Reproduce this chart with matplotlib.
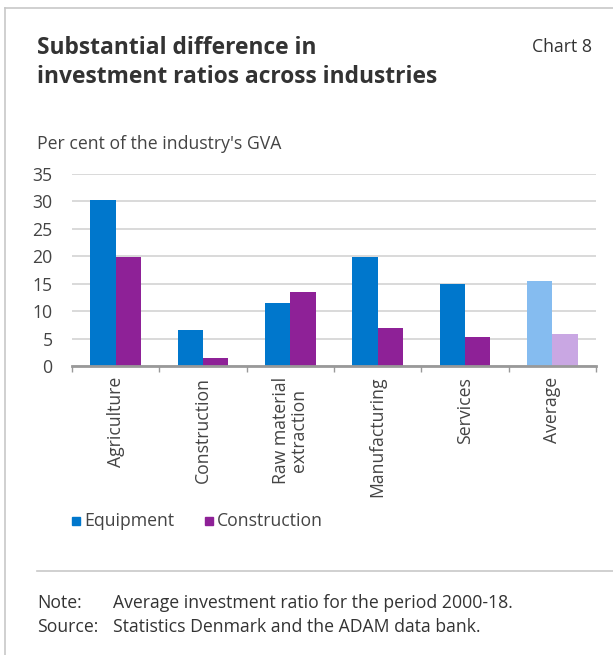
import numpy as np
import matplotlib
matplotlib.use("Agg")
import matplotlib.pyplot as plt
from matplotlib.patches import Rectangle
from matplotlib.lines import Line2D

plt.rcParams['font.family'] = ['Open Sans', 'DejaVu Sans']

# DATA
categories = ['Agriculture', 'Construction', 'Raw material\nextraction',
              'Manufacturing', 'Services', 'Average']
equipment = [30.3, 6.5, 11.5, 19.8, 15.0, 15.5]
construction = [19.9, 1.45, 13.5, 6.85, 5.2, 5.9]
series_names = ['Equipment', 'Construction']

# colours (last category is lighter)
eq_col = ['#0077cc'] * 5 + ['#85bcf0']
co_col = ['#8e2197'] * 5 + ['#c9a7e3']

FS = 12.7  # body text size

W, H = 613, 655
fig = plt.figure(figsize=(W / 100, H / 100), dpi=100)

def fx(x):
    return x / W

def fy(y):
    return 1 - y / H

# frame lines (top and left)
fig.add_artist(Line2D([fx(5), fx(613)], [fy(8), fy(8)], color='#c8c8c8', lw=1.2))
fig.add_artist(Line2D([fx(5), fx(5)], [fy(8), fy(655)], color='#c8c8c8', lw=1.2))

# titles
fig.text(fx(37), fy(48), 'Substantial difference in', fontsize=16.4, fontweight='bold',
         color='#333333', va='center', ha='left')
fig.text(fx(37), fy(77), 'investment ratios across industries', fontsize=16.4,
         fontweight='bold', color='#333333', va='center', ha='left')
fig.text(fx(592), fy(47), 'Chart 8', fontsize=FS, color='#333333', va='center', ha='right')
fig.text(fx(37), fy(144), "Per cent of the industry's GVA", fontsize=FS,
         color='#444444', va='center', ha='left')

# axes
left, right, top, bottom = 72, 596, 174, 366
ax = fig.add_axes([fx(left), fy(bottom), fx(right - left), (bottom - top) / H])

x = np.arange(len(categories))
w = 0.29
ax.bar(x - w / 2, equipment, width=w, color=eq_col, zorder=3)
ax.bar(x + w / 2, construction, width=w, color=co_col, zorder=3)

ax.set_xlim(-0.5, len(categories) - 0.5)
ax.set_ylim(0, 35)
ax.set_yticks(np.arange(0, 36, 5))
ax.yaxis.grid(True, color='#d9d9d9', lw=1.4, zorder=0)
ax.set_axisbelow(True)
for s in ['top', 'right', 'left']:
    ax.spines[s].set_visible(False)
ax.spines['bottom'].set_color('#999999')
ax.spines['bottom'].set_linewidth(2)
ax.spines['bottom'].set_zorder(4)
ax.tick_params(axis='y', length=0, labelsize=FS, labelcolor='#444444', pad=14)

# category boundary ticks
ax.set_xticks(np.arange(-0.5, len(categories), 1.0))
ax.set_xticklabels([])
ax.tick_params(axis='x', direction='out', length=4, width=1, color='#999999')
for xi, lab in zip(x, categories):
    ax.text(xi, -2.0, lab, rotation=90, ha='center', va='top', fontsize=FS,
            color='#444444', multialignment='center', linespacing=1.0)

# legend
ly = 521
for lx, name, col in [(72, series_names[0], eq_col[0]), (205, series_names[1], co_col[0])]:
    fig.add_artist(Rectangle((fx(lx), fy(ly + 4)), fx(8), 8 / H, color=col))
    fig.text(fx(lx + 12), fy(ly), name, fontsize=FS, color='#444444', va='center', ha='left')

# separator
fig.add_artist(Line2D([fx(37), fx(613)], [fy(571), fy(571)], color='#c8c8c8', lw=1.2))

# note and source
fig.text(fx(37), fy(603), 'Note:', fontsize=FS, color='#333333', va='center')
fig.text(fx(113), fy(603), 'Average investment ratio for the period 2000-18.', fontsize=FS,
         color='#333333', va='center')
fig.text(fx(37), fy(627), 'Source:', fontsize=FS, color='#333333', va='center')
fig.text(fx(113), fy(627), 'Statistics Denmark and the ADAM data bank.', fontsize=FS,
         color='#333333', va='center')

fig.savefig('out.png', dpi=100)
